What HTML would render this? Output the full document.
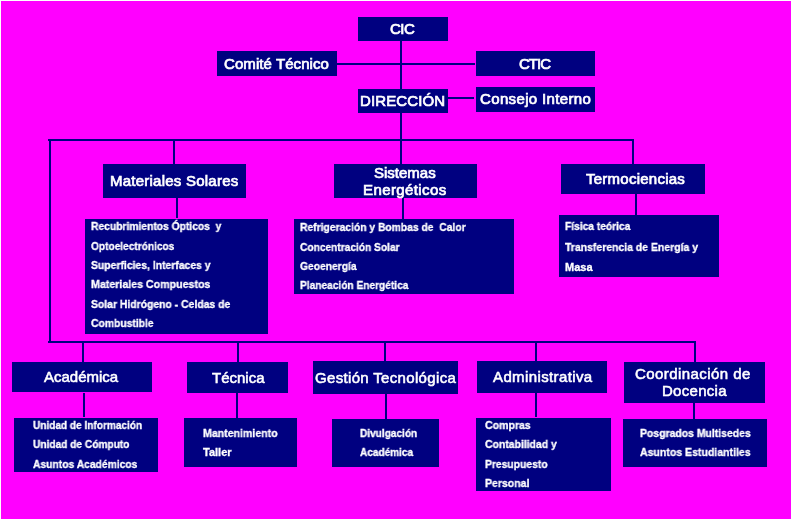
<!DOCTYPE html><html><head><meta charset="utf-8"><style>
html,body{margin:0;padding:0;}body{width:791px;height:519px;background:#ff00ff;position:relative;overflow:hidden;font-family:"Liberation Sans",sans-serif;color:#fff;}
.b,.l{position:absolute;background:#000080;}.t{position:absolute;white-space:nowrap;transform-origin:0 0;will-change:transform;}
</style></head><body>
<div class="brd" style="position:absolute;left:0;top:0;width:791px;height:1px;background:#fff"></div>
<div class="brd" style="position:absolute;left:0;top:0;width:1px;height:519px;background:#fff"></div>
<div class="l" style="left:400px;top:41px;width:2px;height:48px"></div>
<div class="l" style="left:337px;top:63px;width:138px;height:2px"></div>
<div class="l" style="left:448px;top:97px;width:26px;height:2px"></div>
<div class="l" style="left:400px;top:113px;width:2px;height:51px"></div>
<div class="l" style="left:48px;top:139px;width:586px;height:2px"></div>
<div class="l" style="left:49px;top:139px;width:2px;height:204px"></div>
<div class="l" style="left:173px;top:139px;width:2px;height:25px"></div>
<div class="l" style="left:632px;top:139px;width:2px;height:25px"></div>
<div class="l" style="left:176px;top:198px;width:2px;height:20px"></div>
<div class="l" style="left:402px;top:198px;width:2px;height:21px"></div>
<div class="l" style="left:635px;top:194px;width:2px;height:21px"></div>
<div class="l" style="left:48px;top:341px;width:647px;height:2px"></div>
<div class="l" style="left:82px;top:341px;width:2px;height:21px"></div>
<div class="l" style="left:237px;top:341px;width:2px;height:21px"></div>
<div class="l" style="left:384px;top:341px;width:2px;height:20px"></div>
<div class="l" style="left:535px;top:341px;width:2px;height:20px"></div>
<div class="l" style="left:694px;top:341px;width:2px;height:21px"></div>
<div class="l" style="left:83px;top:393px;width:2px;height:24px"></div>
<div class="l" style="left:236px;top:393px;width:2px;height:25px"></div>
<div class="l" style="left:385px;top:394px;width:2px;height:25px"></div>
<div class="l" style="left:535px;top:393px;width:2px;height:24px"></div>
<div class="l" style="left:693px;top:403px;width:2px;height:16px"></div>
<div class="b" style="left:358px;top:17px;width:90px;height:24px"></div>
<div class="b" style="left:217px;top:51px;width:120px;height:25px"></div>
<div class="b" style="left:476px;top:51px;width:119px;height:25px"></div>
<div class="b" style="left:358px;top:89px;width:90px;height:24px"></div>
<div class="b" style="left:476px;top:87px;width:119px;height:25px"></div>
<div class="b" style="left:103px;top:164px;width:143px;height:34px"></div>
<div class="b" style="left:334px;top:164px;width:143px;height:34px"></div>
<div class="b" style="left:561px;top:164px;width:144px;height:30px"></div>
<div class="b" style="left:85px;top:219px;width:183px;height:115px"></div>
<div class="b" style="left:294px;top:219px;width:220px;height:75px"></div>
<div class="b" style="left:559px;top:215px;width:160px;height:62px"></div>
<div class="b" style="left:12px;top:362px;width:140px;height:30px"></div>
<div class="b" style="left:187px;top:362px;width:101px;height:31px"></div>
<div class="b" style="left:313px;top:361px;width:145px;height:33px"></div>
<div class="b" style="left:477px;top:361px;width:130px;height:32px"></div>
<div class="b" style="left:624px;top:362px;width:141px;height:41px"></div>
<div class="b" style="left:14px;top:418px;width:144px;height:54px"></div>
<div class="b" style="left:184px;top:418px;width:113px;height:49px"></div>
<div class="b" style="left:332px;top:419px;width:107px;height:48px"></div>
<div class="b" style="left:476px;top:418px;width:135px;height:73px"></div>
<div class="b" style="left:623px;top:419px;width:144px;height:48px"></div>
<div class="t" id="t0" style="left:390.00px;top:21px;font:normal 15px/15px 'Liberation Sans',sans-serif;letter-spacing:-0.500px;-webkit-text-stroke:0.7px #fff;">CIC</div>
<div class="t" id="t1" style="left:224.00px;top:56px;font:normal 15px/15px 'Liberation Sans',sans-serif;letter-spacing:0.077px;-webkit-text-stroke:0.7px #fff;">Comité Técnico</div>
<div class="t" id="t2" style="left:519.00px;top:56px;font:normal 15px/15px 'Liberation Sans',sans-serif;letter-spacing:-1.000px;-webkit-text-stroke:0.7px #fff;">CTIC</div>
<div class="t" id="t3" style="left:360.00px;top:93px;font:normal 15px/15px 'Liberation Sans',sans-serif;letter-spacing:0.125px;-webkit-text-stroke:0.7px #fff;">DIRECCIÓN</div>
<div class="t" id="t4" style="left:480.00px;top:91px;font:normal 15px/15px 'Liberation Sans',sans-serif;letter-spacing:0.357px;-webkit-text-stroke:0.7px #fff;">Consejo Interno</div>
<div class="t" id="t5" style="left:110.00px;top:173px;font:normal 15px/15px 'Liberation Sans',sans-serif;letter-spacing:0.235px;-webkit-text-stroke:0.7px #fff;">Materiales Solares</div>
<div class="t" id="t6" style="left:374.00px;top:165px;font:normal 15px/15px 'Liberation Sans',sans-serif;-webkit-text-stroke:0.7px #fff;">Sistemas</div>
<div class="t" id="t7" style="left:363.00px;top:182px;font:normal 15px/15px 'Liberation Sans',sans-serif;letter-spacing:0.400px;-webkit-text-stroke:0.7px #fff;">Energéticos</div>
<div class="t" id="t8" style="left:586.00px;top:171px;font:normal 15px/15px 'Liberation Sans',sans-serif;letter-spacing:0.250px;-webkit-text-stroke:0.7px #fff;">Termociencias</div>
<div class="t" id="t9" style="left:91.00px;top:221px;font:bold 11px/11px 'Liberation Sans',sans-serif;transform:scale(0.9353,1.0);-webkit-text-stroke:0.3px #fff;">Recubrimientos Ópticos&nbsp; y</div>
<div class="t" id="t10" style="left:91.00px;top:241px;font:bold 11px/11px 'Liberation Sans',sans-serif;transform:scale(0.9213,1.0);-webkit-text-stroke:0.3px #fff;">Optoelectrónicos</div>
<div class="t" id="t11" style="left:91.00px;top:260px;font:bold 11px/11px 'Liberation Sans',sans-serif;transform:scale(0.9444,1.0);-webkit-text-stroke:0.3px #fff;">Superficies, Interfaces y</div>
<div class="t" id="t12" style="left:91.00px;top:279px;font:bold 11px/11px 'Liberation Sans',sans-serif;transform:scale(0.9672,1.0);-webkit-text-stroke:0.3px #fff;">Materiales Compuestos</div>
<div class="t" id="t13" style="left:91.00px;top:299px;font:bold 11px/11px 'Liberation Sans',sans-serif;transform:scale(0.9452,1.0);-webkit-text-stroke:0.3px #fff;">Solar Hidrógeno - Celdas de</div>
<div class="t" id="t14" style="left:91.00px;top:318px;font:bold 11px/11px 'Liberation Sans',sans-serif;transform:scale(0.9394,1.0);-webkit-text-stroke:0.3px #fff;">Combustible</div>
<div class="t" id="t15" style="left:300.00px;top:222px;font:bold 11px/11px 'Liberation Sans',sans-serif;transform:scale(0.9375,1.0);-webkit-text-stroke:0.3px #fff;">Refrigeración y Bombas de&nbsp; Calor</div>
<div class="t" id="t16" style="left:300.00px;top:242px;font:bold 11px/11px 'Liberation Sans',sans-serif;transform:scale(0.9252,1.0);-webkit-text-stroke:0.3px #fff;">Concentración Solar</div>
<div class="t" id="t17" style="left:300.00px;top:261px;font:bold 11px/11px 'Liberation Sans',sans-serif;transform:scale(0.9333,1.0);-webkit-text-stroke:0.3px #fff;">Geoenergía</div>
<div class="t" id="t18" style="left:300.00px;top:280px;font:bold 11px/11px 'Liberation Sans',sans-serif;transform:scale(0.9231,1.0);-webkit-text-stroke:0.3px #fff;">Planeación Energética</div>
<div class="t" id="t19" style="left:565.00px;top:221px;font:bold 11px/11px 'Liberation Sans',sans-serif;transform:scale(0.9286,1.0);-webkit-text-stroke:0.3px #fff;">Física teórica</div>
<div class="t" id="t20" style="left:565.00px;top:242px;font:bold 11px/11px 'Liberation Sans',sans-serif;transform:scale(0.9496,1.0);-webkit-text-stroke:0.3px #fff;">Transferencia de Energía y</div>
<div class="t" id="t21" style="left:565.00px;top:262px;font:bold 11px/11px 'Liberation Sans',sans-serif;-webkit-text-stroke:0.3px #fff;">Masa</div>
<div class="t" id="t22" style="left:33.00px;top:420px;font:bold 11px/11px 'Liberation Sans',sans-serif;transform:scale(0.9153,1.0);-webkit-text-stroke:0.3px #fff;">Unidad de Información</div>
<div class="t" id="t23" style="left:33.00px;top:439px;font:bold 11px/11px 'Liberation Sans',sans-serif;transform:scale(0.9223,1.0);-webkit-text-stroke:0.3px #fff;">Unidad de Cómputo</div>
<div class="t" id="t24" style="left:33.00px;top:459px;font:bold 11px/11px 'Liberation Sans',sans-serif;transform:scale(0.9364,1.0);-webkit-text-stroke:0.3px #fff;">Asuntos Académicos</div>
<div class="t" id="t25" style="left:203.00px;top:428px;font:bold 11px/11px 'Liberation Sans',sans-serif;transform:scale(0.9610,1.0);-webkit-text-stroke:0.3px #fff;">Mantenimiento</div>
<div class="t" id="t26" style="left:203.00px;top:447px;font:bold 11px/11px 'Liberation Sans',sans-serif;-webkit-text-stroke:0.3px #fff;">Taller</div>
<div class="t" id="t27" style="left:360.00px;top:428px;font:bold 11px/11px 'Liberation Sans',sans-serif;transform:scale(0.9180,1.0);-webkit-text-stroke:0.3px #fff;">Divulgación</div>
<div class="t" id="t28" style="left:360.00px;top:447px;font:bold 11px/11px 'Liberation Sans',sans-serif;transform:scale(0.9138,1.0);-webkit-text-stroke:0.3px #fff;">Académica</div>
<div class="t" id="t29" style="left:485.00px;top:420px;font:bold 11px/11px 'Liberation Sans',sans-serif;transform:scale(0.9579,1.0);-webkit-text-stroke:0.3px #fff;">Compras</div>
<div class="t" id="t30" style="left:485.00px;top:439px;font:bold 11px/11px 'Liberation Sans',sans-serif;transform:scale(0.9467,1.0);-webkit-text-stroke:0.3px #fff;">Contabilidad y</div>
<div class="t" id="t31" style="left:485.00px;top:459px;font:bold 11px/11px 'Liberation Sans',sans-serif;transform:scale(0.9394,1.0);-webkit-text-stroke:0.3px #fff;">Presupuesto</div>
<div class="t" id="t32" style="left:485.00px;top:478px;font:bold 11px/11px 'Liberation Sans',sans-serif;transform:scale(0.9556,1.0);-webkit-text-stroke:0.3px #fff;">Personal</div>
<div class="t" id="t33" style="left:640.00px;top:428px;font:bold 11px/11px 'Liberation Sans',sans-serif;transform:scale(0.9483,1.0);-webkit-text-stroke:0.3px #fff;">Posgrados Multisedes</div>
<div class="t" id="t34" style="left:640.00px;top:447px;font:bold 11px/11px 'Liberation Sans',sans-serif;transform:scale(0.9572,1.0);-webkit-text-stroke:0.3px #fff;">Asuntos Estudiantiles</div>
<div class="t" id="t35" style="left:44.00px;top:369px;font:normal 15px/15px 'Liberation Sans',sans-serif;-webkit-text-stroke:0.55px #fff;">Académica</div>
<div class="t" id="t36" style="left:212.00px;top:370px;font:normal 15px/15px 'Liberation Sans',sans-serif;-webkit-text-stroke:0.55px #fff;">Técnica</div>
<div class="t" id="t37" style="left:315.00px;top:370px;font:normal 15px/15px 'Liberation Sans',sans-serif;letter-spacing:0.333px;-webkit-text-stroke:0.55px #fff;">Gestión Tecnológica</div>
<div class="t" id="t38" style="left:493.00px;top:369px;font:normal 15px/15px 'Liberation Sans',sans-serif;letter-spacing:0.385px;-webkit-text-stroke:0.55px #fff;">Administrativa</div>
<div class="t" id="t39" style="left:635.00px;top:366px;font:normal 15px/15px 'Liberation Sans',sans-serif;letter-spacing:0.429px;-webkit-text-stroke:0.55px #fff;">Coordinación de</div>
<div class="t" id="t40" style="left:662.00px;top:383px;font:normal 15px/15px 'Liberation Sans',sans-serif;letter-spacing:0.286px;-webkit-text-stroke:0.55px #fff;">Docencia</div>
</body></html>
